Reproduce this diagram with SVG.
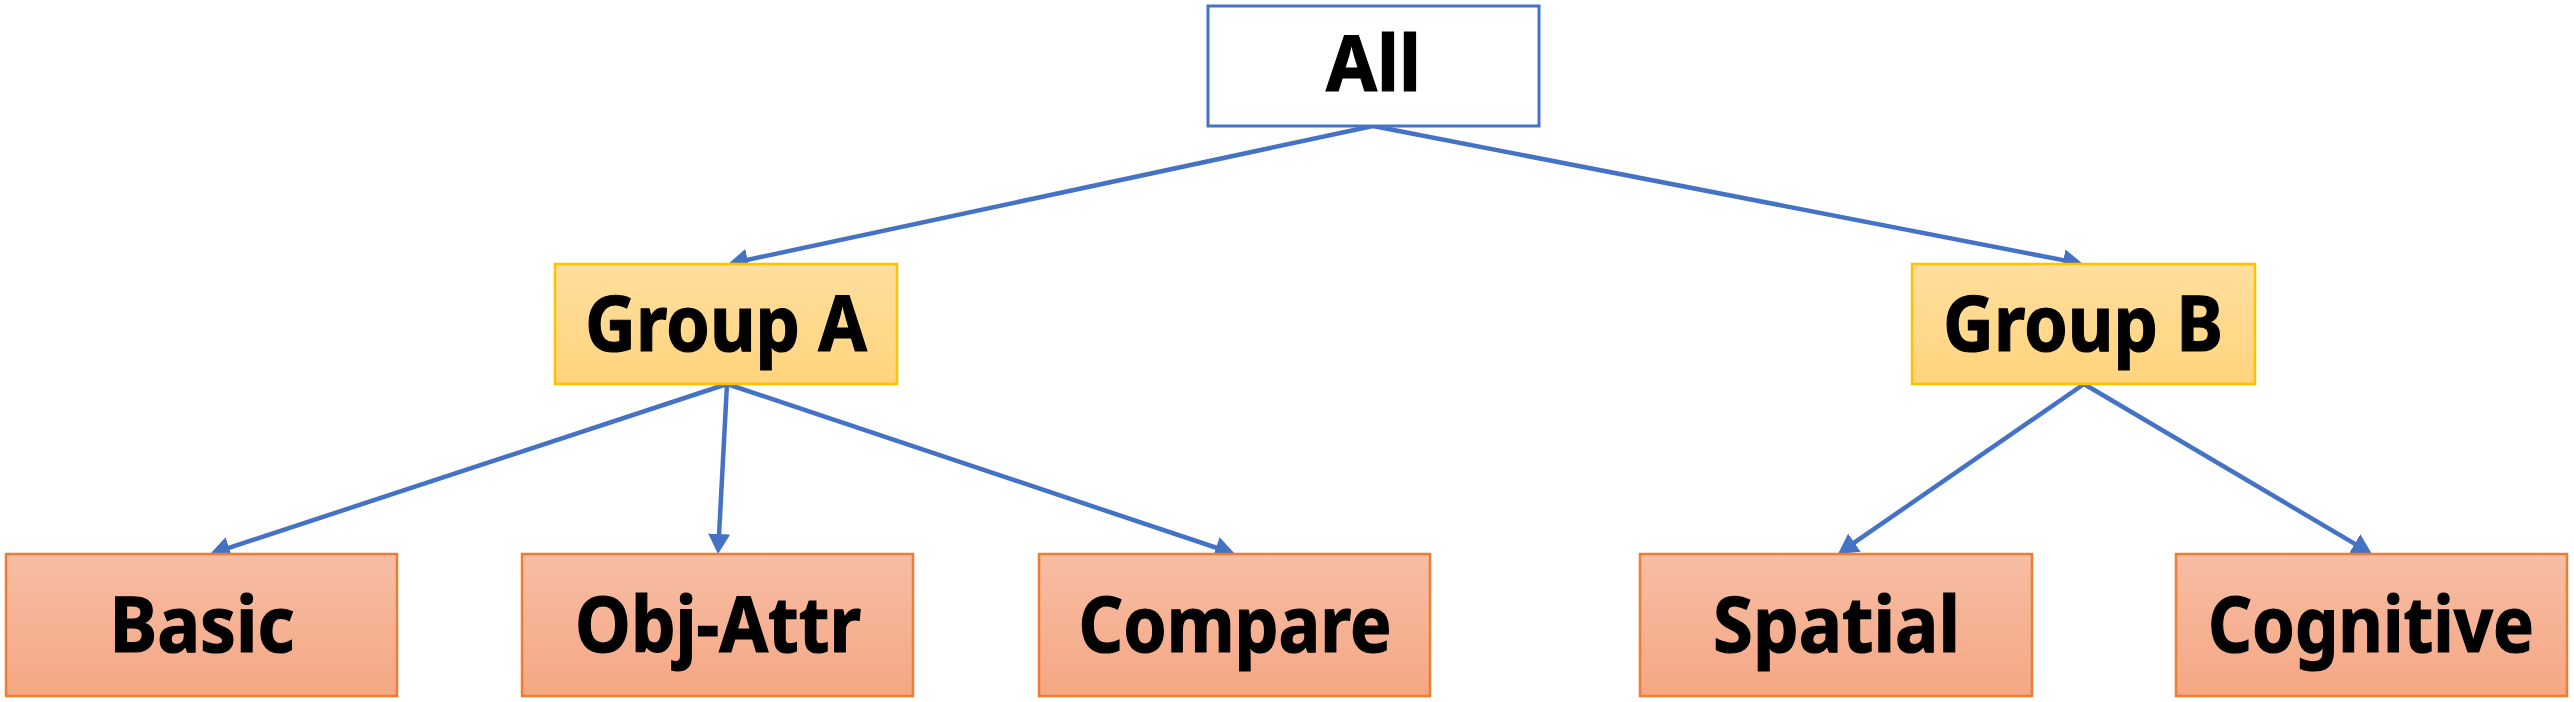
<svg xmlns="http://www.w3.org/2000/svg" width="2574" height="702" viewBox="0 0 2574 702">
  <defs>
    <linearGradient id="gGroup" x1="0" y1="0" x2="0" y2="1">
      <stop offset="0" stop-color="#FFDE9E"/>
      <stop offset="1" stop-color="#FFD47C"/>
    </linearGradient>
    <linearGradient id="gLeaf" x1="0" y1="0" x2="0" y2="1">
      <stop offset="0" stop-color="#F7BDA4"/>
      <stop offset="1" stop-color="#F5A784"/>
    </linearGradient>
    <marker id="arrow" viewBox="0 0 20 22" refX="9" refY="11" markerWidth="20" markerHeight="22" markerUnits="userSpaceOnUse" orient="auto">
      <path d="M0,0 L20,11 L0,22 Z" fill="#4472C4"/>
    </marker>
    <style>
      .label { font-family: "Noto Sans", "Open Sans", "Liberation Sans", sans-serif; font-weight: 700; font-size: 77px; fill: #000000; stroke: #000000; stroke-width: 1.2; text-anchor: middle; }
      .root { fill: #FFFFFF; stroke: #4472C4; stroke-width: 3; }
      .group { fill: url(#gGroup); stroke: #FFC000; stroke-width: 2.5; }
      .leaf { fill: url(#gLeaf); stroke: #ED7D31; stroke-width: 2.5; }
      .edge { stroke: #4472C4; stroke-width: 4.5; fill: none; marker-end: url(#arrow); }
    </style>
  </defs>
  <rect width="2574" height="702" fill="#FFFFFF"/>

  <g id="connectors">
    <line class="edge" x1="1373" y1="126" x2="738.8" y2="261.7"/>
    <line class="edge" x1="1373" y1="126" x2="2072.2" y2="261.9"/>
    <line class="edge" x1="727" y1="384" x2="220.5" y2="550.6"/>
    <line class="edge" x1="727" y1="384" x2="718.6" y2="543.0"/>
    <line class="edge" x1="727" y1="384" x2="1224.6" y2="550.5"/>
    <line class="edge" x1="2084" y1="384" x2="1847.0" y2="547.7"/>
    <line class="edge" x1="2084" y1="384" x2="2362.5" y2="548.4"/>
  </g>

  <g id="node-all">
    <rect class="root" x="1208" y="6" width="331" height="120"/>
    <text class="label" x="1373.5" y="91" textLength="95" lengthAdjust="spacingAndGlyphs">All</text>
  </g>

  <g id="node-group-a">
    <rect class="group" x="555" y="264" width="342" height="120"/>
    <text class="label" x="726" y="351" textLength="282" lengthAdjust="spacingAndGlyphs">Group A</text>
  </g>

  <g id="node-group-b">
    <rect class="group" x="1912" y="264" width="343" height="120"/>
    <text class="label" x="2083" y="351" textLength="280" lengthAdjust="spacingAndGlyphs">Group B</text>
  </g>

  <g id="node-basic">
    <rect class="leaf" x="6" y="554" width="391" height="142"/>
    <text class="label" x="202" y="652" textLength="185" lengthAdjust="spacingAndGlyphs">Basic</text>
  </g>

  <g id="node-obj-attr">
    <rect class="leaf" x="522" y="554" width="391" height="142"/>
    <text class="label" x="718" y="652" textLength="286" lengthAdjust="spacingAndGlyphs">Obj-Attr</text>
  </g>

  <g id="node-compare">
    <rect class="leaf" x="1039" y="554" width="391" height="142"/>
    <text class="label" x="1235" y="652" textLength="313" lengthAdjust="spacingAndGlyphs">Compare</text>
  </g>

  <g id="node-spatial">
    <rect class="leaf" x="1640" y="554" width="392" height="142"/>
    <text class="label" x="1836.5" y="652" textLength="247" lengthAdjust="spacingAndGlyphs">Spatial</text>
  </g>

  <g id="node-cognitive">
    <rect class="leaf" x="2176" y="554" width="391" height="142"/>
    <text class="label" x="2371" y="652" textLength="326" lengthAdjust="spacingAndGlyphs">Cognitive</text>
  </g>
</svg>
